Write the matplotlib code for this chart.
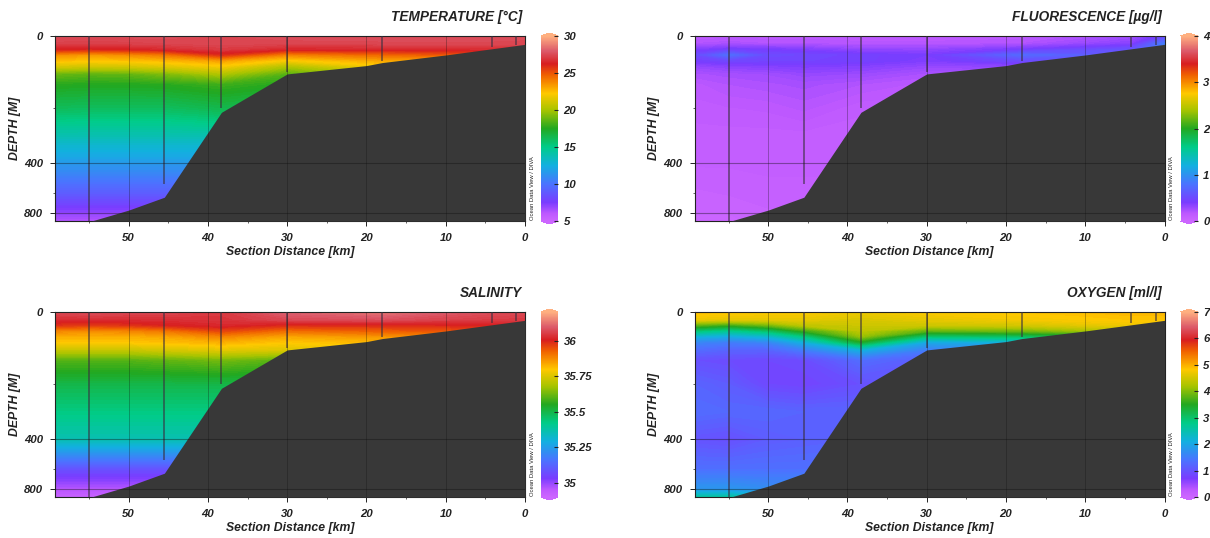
import numpy as np
import matplotlib
matplotlib.use('Agg')
import matplotlib.pyplot as plt
from matplotlib.colors import LinearSegmentedColormap, Normalize
from matplotlib.cm import ScalarMappable

W, H = 1210, 538
FONT = 'Liberation Sans'
INK = '#222222'

# ---- data ----
distance_km = [59.3, 55.0, 50, 45.5, 38.3, 30, 18, 4.2, 0]
depth_m = [0, 20, 35, 50, 65, 80, 100, 130, 200, 300, 400, 600, 800, 900]

temperature = [
    [27.6, 27.6, 27.6, 27.6, 27.5, 27.7, 27.7, 27.7, 27.6],
    [27.2, 27.1, 27.2, 27.3, 27.4, 27.3, 27.4, 27.4, 27.4],
    [26.2, 26.0, 26.2, 26.5, 27.0, 26.4, 26.4, 26.6, 26.6],
    [23.6, 23.3, 23.6, 24.1, 25.8, 23.8, 24.5, 25.0, 25.0],
    [22.5, 22.3, 22.4, 22.6, 23.2, 22.0, 23.0, 23.0, 23.0],
    [21.2, 21.0, 21.1, 21.4, 22.0, 20.2, 22.0, 22.0, 22.0],
    [18.8, 18.6, 18.7, 19.2, 20.2, 18.4, 20.0, 20.0, 20.0],
    [17.6, 17.5, 17.5, 17.6, 18.0, 17.5, 18.0, 18.0, 18.0],
    [16.1, 16.0, 16.0, 16.0, 16.4, 16.0, 16.0, 16.0, 16.0],
    [13.8, 13.8, 13.8, 13.8, 13.8, 13.8, 13.8, 13.8, 13.8],
    [11.6, 11.6, 11.6, 11.6, 11.6, 11.6, 11.6, 11.6, 11.6],
    [9.0, 9.0, 9.0, 9.0, 9.0, 9.0, 9.0, 9.0, 9.0],
    [7.0, 7.0, 7.0, 7.0, 7.0, 7.0, 7.0, 7.0, 7.0],
    [6.2, 6.2, 6.2, 6.2, 6.2, 6.2, 6.2, 6.2, 6.2],
]
fluorescence = [
    [0.14, 0.15, 0.15, 0.15, 0.15, 0.15, 0.15, 0.25, 0.45],
    [0.20, 0.22, 0.20, 0.20, 0.18, 0.18, 0.20, 0.35, 0.85],
    [0.35, 0.42, 0.40, 0.36, 0.30, 0.30, 0.40, 0.55, 0.90],
    [0.50, 0.75, 0.50, 0.48, 0.44, 0.40, 0.72, 0.60, 0.60],
    [0.42, 0.48, 0.46, 0.46, 0.44, 0.38, 0.50, 0.50, 0.50],
    [0.30, 0.34, 0.36, 0.38, 0.36, 0.30, 0.32, 0.30, 0.30],
    [0.22, 0.24, 0.26, 0.30, 0.28, 0.22, 0.20, 0.20, 0.20],
    [0.16, 0.20, 0.22, 0.24, 0.20, 0.16, 0.15, 0.15, 0.15],
    [0.13, 0.14, 0.15, 0.18, 0.12, 0.12, 0.12, 0.12, 0.12],
    [0.10, 0.10, 0.10, 0.10, 0.10, 0.10, 0.10, 0.10, 0.10],
    [0.09, 0.09, 0.09, 0.09, 0.09, 0.09, 0.09, 0.09, 0.09],
    [0.05, 0.06, 0.08, 0.08, 0.08, 0.08, 0.08, 0.08, 0.08],
    [0.03, 0.03, 0.05, 0.05, 0.05, 0.05, 0.05, 0.05, 0.05],
    [0.02, 0.02, 0.04, 0.04, 0.04, 0.04, 0.04, 0.04, 0.04],
]
salinity = [
    [36.07, 36.08, 36.07, 36.07, 36.05, 36.11, 36.13, 36.08, 36.07],
    [36.03, 36.03, 36.03, 36.03, 36.04, 36.07, 36.08, 36.05, 36.05],
    [35.98, 35.97, 35.98, 36.00, 36.02, 35.99, 35.99, 36.00, 36.00],
    [35.88, 35.87, 35.88, 35.90, 35.96, 35.91, 35.93, 35.95, 35.95],
    [35.83, 35.83, 35.83, 35.84, 35.88, 35.84, 35.86, 35.88, 35.88],
    [35.80, 35.80, 35.80, 35.81, 35.83, 35.80, 35.82, 35.84, 35.84],
    [35.72, 35.72, 35.72, 35.74, 35.76, 35.75, 35.78, 35.78, 35.78],
    [35.60, 35.60, 35.60, 35.61, 35.63, 35.60, 35.60, 35.60, 35.60],
    [35.50, 35.50, 35.50, 35.50, 35.50, 35.50, 35.50, 35.50, 35.50],
    [35.43, 35.43, 35.43, 35.43, 35.43, 35.43, 35.43, 35.43, 35.43],
    [35.36, 35.36, 35.36, 35.36, 35.36, 35.36, 35.36, 35.36, 35.36],
    [35.08, 35.08, 35.08, 35.08, 35.08, 35.08, 35.08, 35.08, 35.08],
    [34.96, 34.96, 34.96, 34.96, 34.96, 34.96, 34.96, 34.96, 34.96],
    [34.92, 34.92, 34.92, 34.92, 34.92, 34.92, 34.92, 34.92, 34.92],
]
oxygen = [
    [4.9, 4.85, 4.8, 4.8, 4.7, 4.8, 4.85, 4.95, 4.95],
    [4.7, 4.65, 4.65, 4.65, 4.55, 4.65, 4.75, 4.85, 4.85],
    [3.8, 3.6, 3.9, 4.35, 4.45, 4.45, 4.5, 4.7, 4.7],
    [2.9, 2.7, 3.0, 3.6, 4.35, 3.8, 3.9, 4.3, 4.3],
    [2.1, 2.0, 2.2, 2.8, 4.1, 2.9, 3.0, 3.4, 3.4],
    [1.6, 1.5, 1.6, 2.1, 3.4, 2.0, 2.1, 2.4, 2.4],
    [1.3, 1.2, 1.2, 1.5, 2.1, 1.5, 1.6, 1.8, 1.8],
    [0.95, 0.9, 0.85, 0.9, 1.3, 1.1, 1.2, 1.3, 1.3],
    [1.2, 1.1, 0.85, 0.8, 0.95, 1.1, 1.1, 1.1, 1.1],
    [1.3, 1.25, 1.25, 1.2, 1.2, 1.2, 1.2, 1.2, 1.2],
    [1.0, 0.95, 1.1, 1.15, 1.2, 1.2, 1.2, 1.2, 1.2],
    [1.35, 1.35, 1.35, 1.35, 1.35, 1.35, 1.35, 1.35, 1.35],
    [1.8, 1.8, 1.7, 1.7, 1.7, 1.7, 1.7, 1.7, 1.7],
    [2.6, 2.6, 2.2, 2.2, 2.2, 2.2, 2.2, 2.2, 2.2],
]
seabed_km = [59.3, 54.7, 50, 45.5, 38.3, 30, 20, 18, 10, 0]
seabed_m = [900, 900, 770, 640, 215, 100, 78, 70, 50, 22]
cast_km = [55.0, 45.5, 38.3, 30, 18, 4.2, 1.1]
cast_bottom_m = [900, 540, 200, 95, 66, 30, 24]

titles = ['TEMPERATURE [°C]', 'FLUORESCENCE [µg/l]', 'SALINITY', 'OXYGEN [ml/l]']
fields = [temperature, fluorescence, salinity, oxygen]
ranges = [(5, 30), (0, 4), (34.9, 36.204), (0, 7)]
bar_ticks = [[5, 10, 15, 20, 25, 30], [0, 1, 2, 3, 4], [35, 35.25, 35.5, 35.75, 36],
             [0, 1, 2, 3, 4, 5, 6, 7]]
bar_labels = [['5', '10', '15', '20', '25', '30'], ['0', '1', '2', '3', '4'],
              ['35', '35.25', '35.5', '35.75', '36'],
              ['0', '1', '2', '3', '4', '5', '6', '7']]
x_ticks = [0, 10, 20, 30, 40, 50]
y_ticks = [0, 400, 800]

# ---- depth axis of the section plot (stretched near the surface) ----
scale_depth = [0, 100, 200, 400, 600, 800, 900]
scale_frac = [0, 0.205, 0.39, 0.689, 0.85, 0.957, 1.0]


def forward(d):
    return np.interp(d, scale_depth, scale_frac)


def inverse(f):
    return np.interp(f, scale_frac, scale_depth)


odv = LinearSegmentedColormap.from_list('odv', [
    (0.00, '#cc66ff'), (0.04, '#bd58ff'), (0.10, '#7a3cff'), (0.20, '#4a74ff'),
    (0.30, '#12b0e0'), (0.40, '#00cc88'), (0.50, '#22a820'), (0.60, '#a8c400'),
    (0.69, '#ffc800'), (0.79, '#f06000'), (0.85, '#d81e20'), (0.92, '#dc5a6a'),
    (1.00, '#ffb080')], N=512)
odv.set_under('#cc66ff')
odv.set_over('#ffb080')

plt.rcParams['font.family'] = FONT
fig = plt.figure(figsize=(W / 100, H / 100), dpi=100, facecolor='white')


def rect(x0, y0, x1, y1):
    return [x0 / W, 1 - y1 / H, (x1 - x0) / W, (y1 - y0) / H]


def label(x, y, s, size, **kw):
    fig.text(x / W, 1 - y / H, s, fontsize=size, fontweight='bold', fontstyle='italic',
             color=INK, va='center', **kw)


for i in range(4):
    ox = 0 if i % 2 == 0 else 639.5
    oy = 0 if i < 2 else 276
    ax = fig.add_axes(rect(55 + ox, 36 + oy, 525 + ox, 221 + oy))
    vmin, vmax = ranges[i]
    norm = Normalize(vmin, vmax)
    ax.set_yscale('function', functions=(forward, inverse))
    ax.contourf(distance_km, depth_m, np.array(fields[i]),
                levels=np.linspace(vmin, vmax, 141), cmap=odv, norm=norm, extend='both')
    ax.fill_between(seabed_km, seabed_m, 900, color='#383838', lw=0, zorder=3)
    ax.vlines(cast_km, 0, cast_bottom_m, color='#3a3040', lw=1.1, alpha=0.75, zorder=4)
    for xv in x_ticks[1:]:
        ax.axvline(xv, color='#101010', lw=0.7, alpha=0.3, zorder=5)
    for yv in y_ticks[1:]:
        ax.axhline(yv, color='#101010', lw=0.8, alpha=0.4, zorder=5)
    ax.set_xlim(59.3, 0)
    ax.set_ylim(900, 0)
    ax.set_xticks(x_ticks)
    ax.set_xticks([5, 15, 25, 35, 45, 55], minor=True)
    ax.set_yticks(y_ticks)
    ax.set_yticks([200, 600], minor=True)
    ax.tick_params(axis='both', which='major', length=3.5, width=0.7, color=INK, pad=5,
                   labelsize=8.2, labelcolor=INK)
    ax.tick_params(axis='both', which='minor', length=1.5, width=0.5, color=INK)
    for t in ax.get_xticklabels() + ax.get_yticklabels():
        t.set_fontweight('bold')
        t.set_fontstyle('italic')
    for s in ax.spines.values():
        s.set_color(INK)
        s.set_linewidth(0.8)

    label(522 + ox, 17 + oy, titles[i], 9.8, ha='right')
    label(290 + ox, 251.5 + oy, 'Section Distance [km]', 8.8, ha='center')
    label(15 + ox, 128 + oy, 'DEPTH [M]', 8.8, ha='center', rotation=90)
    fig.text((532 + ox) / W, 1 - (220 + oy) / H, 'Ocean Data View / DIVA', fontsize=4.2,
             rotation=90, ha='center', va='bottom', color=INK)

    # the pointed ends sit outside the value range, so the bar axes reach past the plot
    cax = fig.add_axes(rect(541 + ox, 33 + oy, 558 + ox, 224 + oy))
    sm = ScalarMappable(norm=norm, cmap=odv)
    cb = fig.colorbar(sm, cax=cax, extend='both', extendfrac=0.016)
    cb.outline.set_visible(False)
    cb.set_ticks(bar_ticks[i])
    cb.set_ticklabels(bar_labels[i])
    cb.minorticks_off()
    cax.tick_params(axis='y', length=3, width=0.8, direction='in', color=INK, pad=4,
                    labelsize=8.2, labelcolor=INK)
    for t in cax.get_yticklabels():
        t.set_fontweight('bold')
        t.set_fontstyle('italic')

fig.savefig('out.png', dpi=100, facecolor='white')
